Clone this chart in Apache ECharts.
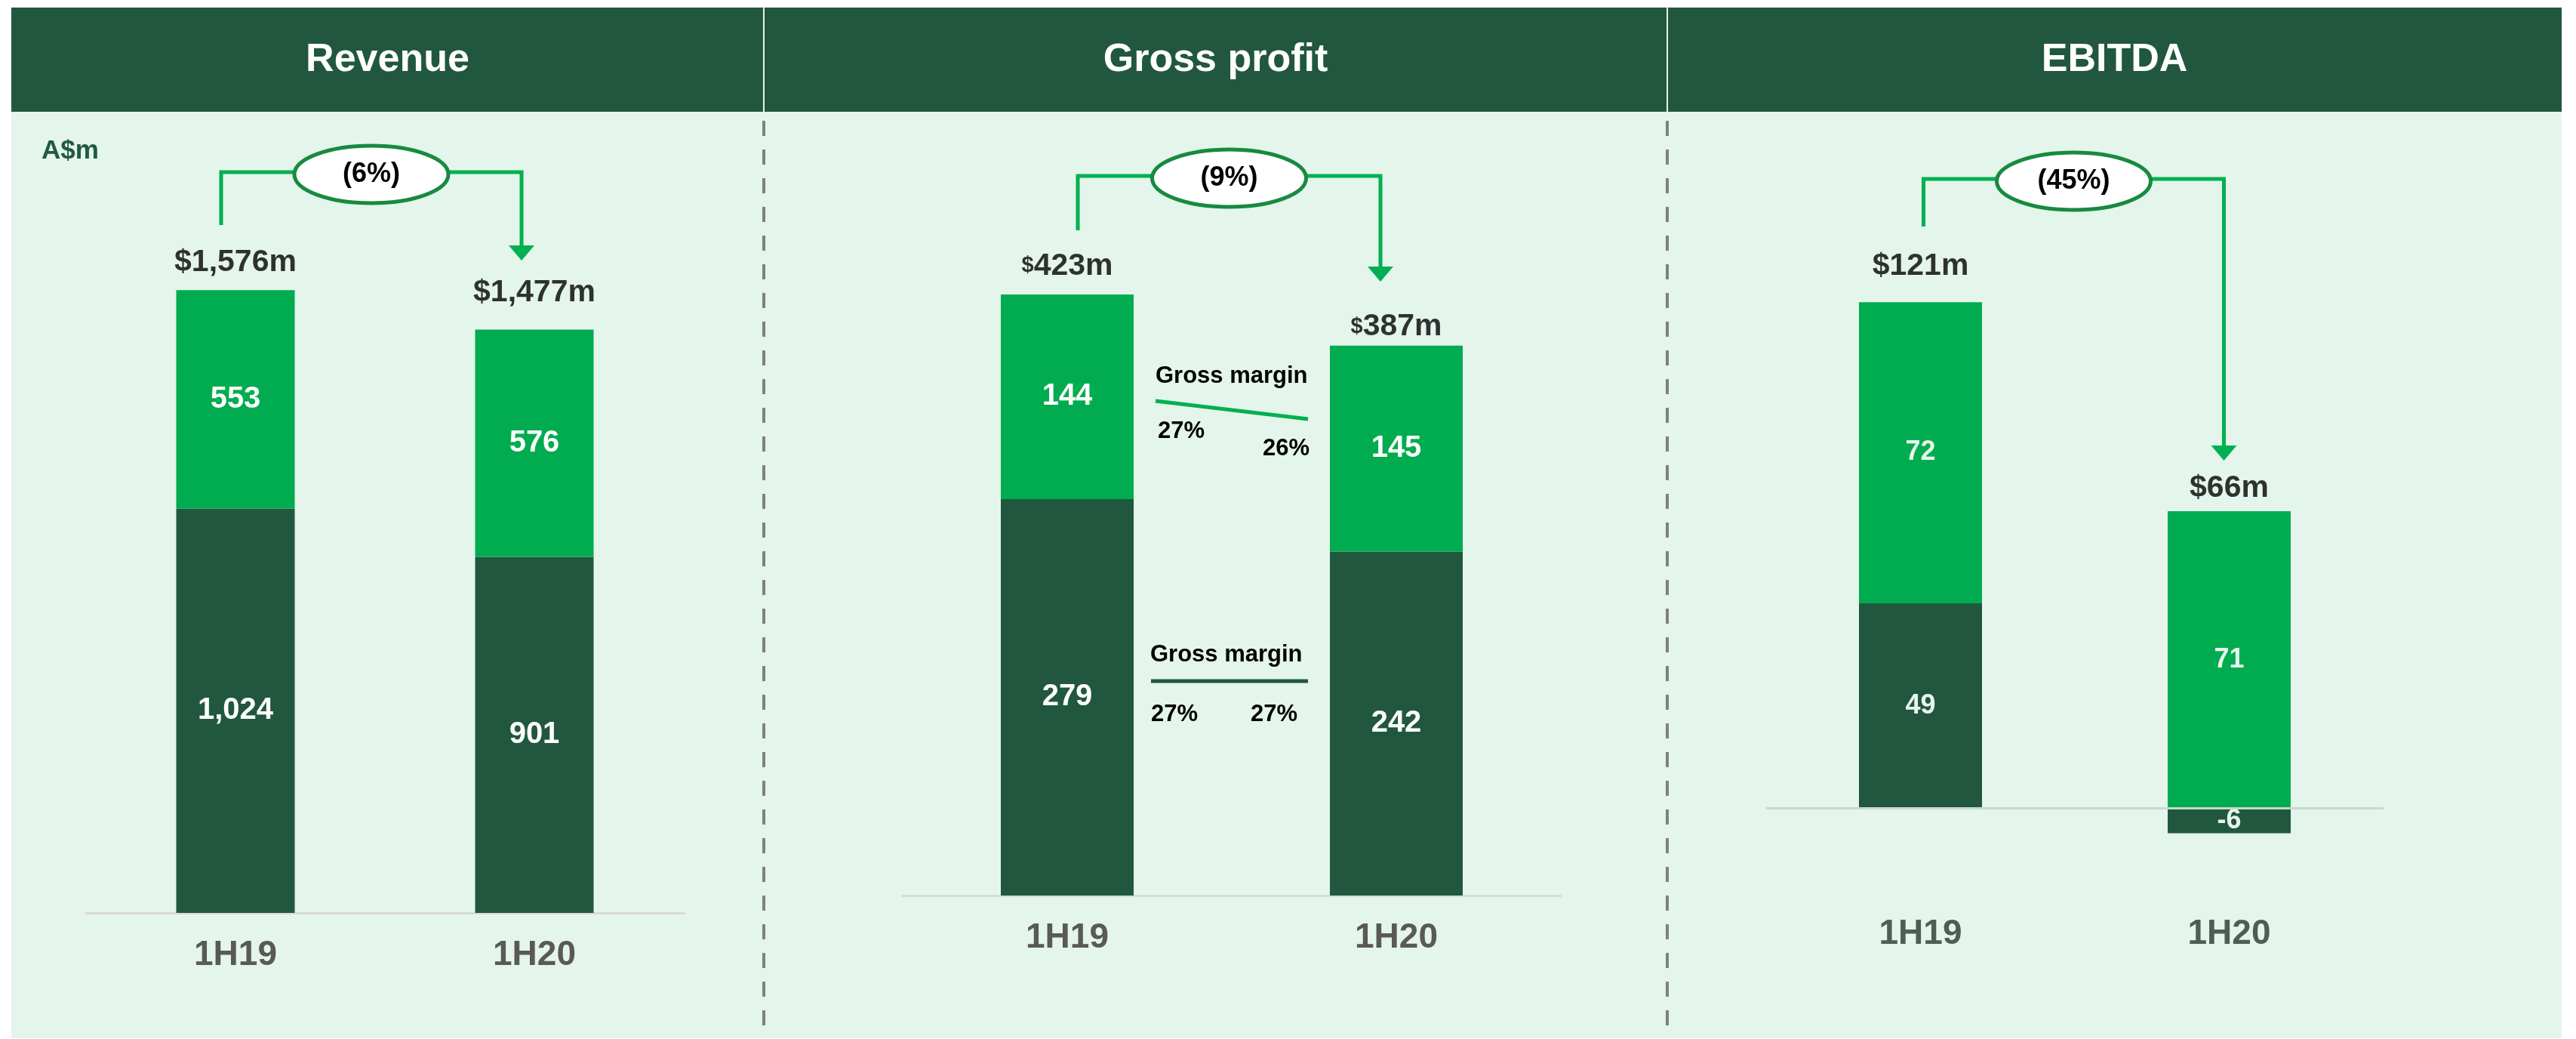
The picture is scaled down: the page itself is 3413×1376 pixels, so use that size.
<!DOCTYPE html>
<html>
<head>
<meta charset="utf-8">
<script src="https://cdn.jsdelivr.net/npm/echarts@6.0.0/dist/echarts.min.js"></script>
<style>
  html, body { margin: 0; padding: 0; background: #fff; }
  #main { width: 3413px; height: 1376px; }
</style>
</head>
<body>
<div id="main"></div>
<script>
// data (A$m)
var categories = ['1H19', '1H20'];
var panelTitles = ['Revenue', 'Gross profit', 'EBITDA'];
var unitLabel = 'A$m';

var revenueLower = [1024, 901];
var revenueUpper = [553, 576];
var revenueTotal = [1576, 1477];

var grossLower = [279, 242];
var grossUpper = [144, 145];
var grossTotal = [423, 387];

var ebitdaLower = [49, -6];
var ebitdaUpper = [72, 71];
var ebitdaTotal = [121, 66];

var changePct = [-6, -9, -45];
var marginUpper = [27, 26];
var marginLower = [27, 27];

var DARK = '#21573f';
var GREEN = '#00ac4f';
var LINE_GREEN = '#00b050';
var BG = '#e4f5eb';
var FONT = "'Liberation Sans', Arial, sans-serif";

function fmt(n) { return n.toLocaleString('en-US'); }

var panels = [
  { lower: revenueLower, upper: revenueUpper, total: revenueTotal,
    grid: { left: 114, top: 163, width: 792, height: 1046 }, min: 0, max: 2000,
    barWidth: 157, gaps: [16, 28], smallDollar: false, inFont: 40, inColor: '#fff',
    catColor: '#595959', bracket: { l: -19, r: -17, top: 228, lb: 298, tip: 345 } },
  { lower: grossLower, upper: grossUpper, total: grossTotal,
    grid: { left: 1196, top: 245, width: 872, height: 941 }, min: 0, max: 500,
    barWidth: 176, gaps: [17, 4], smallDollar: true, inFont: 40, inColor: '#fff',
    catColor: '#595959', bracket: { l: 14, r: -21, top: 233, lb: 305, tip: 373 } },
  { lower: ebitdaLower, upper: ebitdaUpper, total: ebitdaTotal,
    grid: { left: 2340, top: 295, width: 818, height: 886 }, min: -20, max: 140,
    barWidth: 163, gaps: [27, 10], smallDollar: false, inFont: 36, inColor: '#e8f5ec',
    catColor: '#4d5f53', bracket: { l: 4, r: -7, top: 237, lb: 300, tip: 610 } }
];

var grids = [], xAxes = [], yAxes = [], series = [];

panels.forEach(function (p, i) {
  grids.push({ left: p.grid.left, top: p.grid.top, width: p.grid.width, height: p.grid.height,
    containLabel: false, outerBoundsMode: 'none' });
  xAxes.push({
    type: 'category', gridIndex: i, data: categories,
    axisTick: { show: false },
    axisLine: i === 2 ? { show: false, onZero: false }
                      : { show: true, onZero: false, lineStyle: { color: '#d9d9d9', width: 3 } },
    axisLabel: { margin: 33, color: p.catColor, fontSize: 46, fontWeight: 'bold', fontFamily: FONT }
  });
  yAxes.push({ type: 'value', gridIndex: i, min: p.min, max: p.max, show: false, splitLine: { show: false } });

  var stack = 'st' + i;
  var lowerSeries = {
    type: 'bar', xAxisIndex: i, yAxisIndex: i, stack: stack, barWidth: p.barWidth,
    data: p.lower, itemStyle: { color: DARK },
    label: { show: true, position: 'inside', color: p.inColor, fontWeight: 'bold',
      fontFamily: FONT, fontSize: p.inFont, formatter: function (d) { return fmt(d.value); } }
  };
  if (i === 2) {
    lowerSeries.markLine = {
      silent: true, symbol: 'none', label: { show: false },
      lineStyle: { color: '#c9d8ce', width: 3, type: 'solid' },
      data: [{ yAxis: 0 }]
    };
  }
  series.push(lowerSeries);
  series.push({
    type: 'bar', xAxisIndex: i, yAxisIndex: i, stack: stack, barWidth: p.barWidth,
    data: p.upper, itemStyle: { color: GREEN },
    label: { show: true, position: 'inside', color: p.inColor, fontWeight: 'bold',
      fontFamily: FONT, fontSize: p.inFont, formatter: function (d) { return fmt(d.value); } }
  });
  // total labels sit on top of the positive stack
  series.push({
    type: 'scatter', xAxisIndex: i, yAxisIndex: i, symbolSize: 0, silent: true, z: 5,
    data: p.lower.map(function (v, j) {
      return { value: Math.max(0, v) + Math.max(0, p.upper[j]), label: { distance: p.gaps[j] } };
    }),
    label: {
      show: true, position: 'top', fontFamily: FONT,
      formatter: function (d) {
        var t = p.total[d.dataIndex];
        return p.smallDollar ? '{s|$}{v|' + fmt(t) + 'm}' : '{v|$' + fmt(t) + 'm}';
      },
      rich: {
        s: { fontSize: 29, fontWeight: 'bold', color: '#000', fontFamily: FONT },
        v: { fontSize: 41, fontWeight: 'bold', color: '#000', fontFamily: FONT }
      }
    }
  });
});

var chart = echarts.init(document.getElementById('main'));
chart.setOption({
  animation: false,
  backgroundColor: '#fff',
  grid: grids, xAxis: xAxes, yAxis: yAxes, series: series
});

// page frame, headers and annotations
var g = [];
g.push({ type: 'rect', z: -10, shape: { x: 15, y: 148, width: 3379, height: 1227 }, style: { fill: BG } });
g.push({ type: 'rect', z: -10, shape: { x: 15, y: 10, width: 3379, height: 138 }, style: { fill: DARK } });
var splits = [15, 1012, 2209, 3394];
[1012, 2209].forEach(function (x) {
  g.push({ type: 'line', z: -9, shape: { x1: x, y1: 10, x2: x, y2: 148 }, style: { stroke: '#e8efe9', lineWidth: 2 } });
  g.push({ type: 'line', z: -9, shape: { x1: x, y1: 160, x2: x, y2: 1362 },
    style: { stroke: '#808080', lineWidth: 4, lineDash: [20, 18] } });
});
panelTitles.forEach(function (t, i) {
  g.push({ type: 'text', z: 1, x: (splits[i] + splits[i + 1]) / 2, y: 80,
    style: { text: t, fill: '#fff', font: 'bold 52px ' + FONT, textAlign: 'center', textVerticalAlign: 'middle' } });
});
g.push({ type: 'text', z: 1, x: 55, y: 200,
  style: { text: unitLabel, fill: '#215a43', font: 'bold 35px ' + FONT, textAlign: 'left', textVerticalAlign: 'middle' } });

panels.forEach(function (p, i) {
  var b = p.bracket;
  var c1 = chart.convertToPixel({ gridIndex: i }, [categories[0], 0])[0];
  var c2 = chart.convertToPixel({ gridIndex: i }, [categories[1], 0])[0];
  var lx = c1 + b.l, rx = c2 + b.r;
  g.push({ type: 'polyline', z: 20,
    shape: { points: [[lx, b.lb], [lx, b.top], [rx, b.top], [rx, b.tip - 18]] },
    style: { stroke: LINE_GREEN, lineWidth: 5, fill: null } });
  g.push({ type: 'polygon', z: 20,
    shape: { points: [[rx - 17, b.tip - 20], [rx + 17, b.tip - 20], [rx, b.tip]] },
    style: { fill: LINE_GREEN } });
  var cx = (lx + rx) / 2, cy = b.top + 3;
  g.push({ type: 'ellipse', z: 21, shape: { cx: cx, cy: cy, rx: 102, ry: 38 },
    style: { fill: '#fff', stroke: '#178a3f', lineWidth: 5 } });
  g.push({ type: 'text', z: 22, x: cx, y: cy,
    style: { text: '(' + Math.abs(changePct[i]) + '%)', fill: '#000', font: 'bold 36px ' + FONT,
      textAlign: 'center', textVerticalAlign: 'middle' } });
});

// gross margin call-outs between the gross profit bars
function gmText(txt, x, y, align) {
  return { type: 'text', z: 20, x: x, y: y,
    style: { text: txt, fill: '#000', font: 'bold 31px ' + FONT, textAlign: align, textVerticalAlign: 'middle' } };
}
g.push(gmText('Gross margin', 1531, 498, 'left'));
g.push({ type: 'line', z: 20, shape: { x1: 1531, y1: 531, x2: 1733, y2: 555 }, style: { stroke: LINE_GREEN, lineWidth: 5 } });
g.push(gmText(marginUpper[0] + '%', 1534, 571, 'left'));
g.push(gmText(marginUpper[1] + '%', 1735, 594, 'right'));
g.push(gmText('Gross margin', 1524, 867, 'left'));
g.push({ type: 'line', z: 20, shape: { x1: 1525, y1: 902, x2: 1733, y2: 902 }, style: { stroke: DARK, lineWidth: 5 } });
g.push(gmText(marginLower[0] + '%', 1525, 946, 'left'));
g.push(gmText(marginLower[1] + '%', 1719, 946, 'right'));

chart.setOption({ graphic: g });
</script>
</body>
</html>
